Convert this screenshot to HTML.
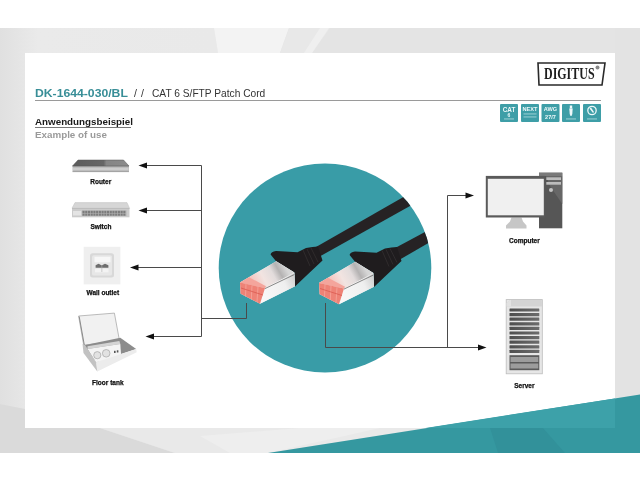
<!DOCTYPE html>
<html><head><meta charset="utf-8">
<style>
html,body{margin:0;padding:0;width:640px;height:480px;overflow:hidden;background:#fff;}
svg{position:absolute;left:0;top:0;display:block;will-change:transform;}
text{font-family:"Liberation Sans",sans-serif;}
</style></head>
<body>
<svg width="640" height="480" viewBox="0 0 640 480">
  <defs>
    <clipPath id="circ"><ellipse cx="325" cy="268" rx="106.3" ry="104.5"/></clipPath>
    <linearGradient id="routerTop" x1="0" x2="1" y1="0" y2="0">
      <stop offset="0" stop-color="#5a5a5a"/><stop offset="0.55" stop-color="#666"/><stop offset="0.6" stop-color="#858585"/><stop offset="1" stop-color="#8c8c8c"/>
    </linearGradient>
    <linearGradient id="plugTop" gradientUnits="userSpaceOnUse" x1="252.5" y1="285.3" x2="285.3" y2="266.9">
      <stop offset="0" stop-color="#f3c0b9"/><stop offset="0.35" stop-color="#f2e4e1"/><stop offset="0.62" stop-color="#e2dcdc"/><stop offset="0.8" stop-color="#b4b2b2"/><stop offset="1" stop-color="#d6d6d6"/>
    </linearGradient>
    <linearGradient id="plugSide" gradientUnits="userSpaceOnUse" x1="262" y1="296" x2="295" y2="280">
      <stop offset="0" stop-color="#f8f8f8"/><stop offset="0.7" stop-color="#efefef"/><stop offset="1" stop-color="#d2d2d2"/>
    </linearGradient>
    <linearGradient id="leftG" x1="0" x2="214" y1="0" y2="0" gradientUnits="userSpaceOnUse">
      <stop offset="0" stop-color="#e0e0e0"/><stop offset="0.18" stop-color="#eaeaea"/><stop offset="1" stop-color="#e9e9e9"/>
    </linearGradient>
    <linearGradient id="srvStripe" x1="0" x2="1" y1="0" y2="0">
      <stop offset="0" stop-color="#4e4e4e"/><stop offset="1" stop-color="#6c6c6c"/>
    </linearGradient>
  </defs>
  <!-- background gray band -->
  <rect x="0" y="28" width="640" height="425" fill="#e4e4e4"/>
  <polygon points="0,28 214,28 218,53 25,53 25,409 0,404" fill="url(#leftG)"/>
  <polygon points="214,28 289,28 280,53 218,53" fill="#f3f3f3"/>
  <polygon points="289,28 330,28 312,53 280,53" fill="#e8e8e8"/>
  <polygon points="320,28 329,28 312,53 304,53" fill="#efefef"/>
  <polygon points="0,404 25,409 25,428 100,428 175,453 0,453" fill="#dadada"/>
  <polygon points="100,428 425.6,428 268,453 175,453" fill="#e9e9e9"/>
  <polygon points="200,436 300,428 380,428 268,453 230,453" fill="#eeeeee"/>
  <polygon points="615,28 640,28 640,394 615,398" fill="#e3e3e3"/>
  <!-- card -->
  <rect x="25" y="53" width="590" height="375" fill="#ffffff"/>
  <!-- teal bottom -->
  <polygon points="268,453 640,394.5 640,453" fill="#3598a0"/>
  <polygon points="425.6,428 615,398.4 615,428" fill="#3da1a9"/>
  <polygon points="490,428 543,428 565,453 498,453" fill="#32919a"/>

  <!-- header -->
  <text x="35" y="97" font-size="11" font-weight="bold" fill="#388e97" transform="translate(35 0) scale(1.11 1) translate(-35 0)">DK-1644-030/BL</text>
  <text x="134" y="97" font-size="10.5" fill="#333" letter-spacing="4">//</text>
  <text x="152" y="97" font-size="10.2" fill="#333">CAT 6 S/FTP Patch Cord</text>
  <rect x="35" y="100" width="566" height="1" fill="#9a9a9a"/>

  <text x="35" y="125" font-size="9.8" font-weight="bold" fill="#1a1a1a">Anwendungsbeispiel</text>
  <rect x="35" y="127" width="96" height="0.8" fill="#555"/>
  <text x="35" y="137.5" font-size="9.8" font-weight="bold" fill="#9a9a9a">Example of use</text>

  <!-- DIGITUS logo -->
  <polygon points="538,63 605,63 602,85 539,85" fill="#fff" stroke="#2a2a2a" stroke-width="1.6"/>
  <text x="544" y="79.5" font-size="17" font-weight="bold" fill="#1e1e1e" transform="translate(544 0) scale(0.705 1) translate(-544 0)" style="font-family:'Liberation Serif',serif">DIGITUS</text>
  <circle cx="597.5" cy="67.5" r="2" fill="#888"/>

  <!-- feature icons -->
  <g fill="#3e9ea7">
    <rect x="500" y="104" width="18" height="18" rx="1"/>
    <rect x="521" y="104" width="18" height="18" rx="1"/>
    <rect x="541.5" y="104" width="18" height="18" rx="1"/>
    <rect x="562" y="104" width="18" height="18" rx="1"/>
    <rect x="583" y="104" width="18" height="18" rx="1"/>
  </g>
  <g fill="#eef8f9" font-weight="bold">
    <text x="509" y="111.5" font-size="6.4" text-anchor="middle">CAT</text>
    <text x="509" y="116.5" font-size="5" text-anchor="middle">6</text>
    <rect x="504" y="118.5" width="10" height="0.9" fill="#a6d5d9"/>
    <text x="530" y="110.8" font-size="5.6" text-anchor="middle">NEXT</text>
    <rect x="523.5" y="113.5" width="13" height="0.9" fill="#a6d5d9"/>
    <rect x="523.5" y="116.5" width="13" height="0.9" fill="#a6d5d9"/>
    <text x="550.5" y="111" font-size="5.6" text-anchor="middle">AWG</text>
    <text x="550.5" y="118.5" font-size="5.6" text-anchor="middle">27/7</text>
    <rect x="569.8" y="105.5" width="2.4" height="3" fill="#eef8f9"/>
    <polygon points="569.3,108.5 572.7,108.5 572.3,114 571.5,116 570.5,116 569.7,114" fill="#eef8f9"/>
    <rect x="566" y="118.5" width="10" height="0.9" fill="#a6d5d9"/>
    <circle cx="592" cy="110.5" r="4.2" fill="none" stroke="#eef8f9" stroke-width="1.3"/>
    <polygon points="589.5,108.5 591,107.5 594,112 593,113" fill="#eef8f9"/>
    <rect x="587" y="118.5" width="10" height="0.9" fill="#a6d5d9"/>
  </g>

  <!-- teal circle -->
  <ellipse cx="325" cy="268" rx="106.3" ry="104.5" fill="#399ca7"/>

  <!-- cables & plugs (clipped) -->
  <g clip-path="url(#circ)">
    <polygon points="316,247 460,164.8 460,178 317,258" fill="#262224"/>
    <polygon points="390,250.8 480,202.3 480,213 396,261.8" fill="#262224"/>
  </g>
  <g id="plug1">
    <!-- boot -->
    <path d="M270.6,254.5 Q271,251.5 276,251 L285,251.6 L297.5,252.2 L306,248 L312.5,247 L318,246.5 L322.5,260.5 L306,276 L295,286.5 L294.4,272.5 L276.25,261.5 Z" fill="#1f1c1e"/>
    <g stroke="#3a3537" stroke-width="0.6" fill="none">
      <path d="M303,250 L310,266"/>
      <path d="M307,249 L314,264"/>
      <path d="M311,248 L318,262"/>
    </g>
    <!-- shell -->
    <polygon points="240,282.5 276.25,261.25 294.4,272.5 295,286.25 260,303.75 240.6,293.75" fill="#f2f2f2"/>
    <polygon points="240,282.5 276.25,261.25 294.4,272.5 265,288.1" fill="url(#plugTop)"/>
    <polygon points="265,288.1 294.4,273 295,286.25 260,303.75" fill="url(#plugSide)"/>
    <polygon points="240,282.5 249,277.2 266,286.2 265,288.1" fill="#f4a59c"/>
    <polygon points="240,282.5 265,288.1 260,303.75 240.6,293.75" fill="#ee8276"/>
    <g stroke="#f6aaa1" stroke-width="0.7">
      <line x1="246" y1="284" x2="245.5" y2="296.5"/>
      <line x1="252" y1="285.3" x2="251.3" y2="299.5"/>
      <line x1="258" y1="286.6" x2="257" y2="302"/>
    </g>
    <g stroke="#db5a50" stroke-width="0.8">
      <line x1="241" y1="288" x2="263" y2="295"/>
    </g>
    <line x1="265" y1="288.6" x2="294.4" y2="274.5" stroke="#5a5a5a" stroke-width="0.7"/>
  </g>
  <use href="#plug1" x="79" y="0.5"/>

  <!-- connector lines -->
  <g stroke="#4a4a4a" stroke-width="1" fill="none">
    <path d="M146,165.5 H201.5 V336.5 H153"/>
    <path d="M146,210.5 H201.5"/>
    <path d="M137,267.5 H201.5"/>
    <path d="M201.5,318.5 H246.5 V303"/>
    <path d="M447.5,347.5 V195.5 H466"/>
    <path d="M325.5,303 V347.5 H479"/>
  </g>
  <g fill="#111">
    <polygon points="138.5,165.5 147,162.5 147,168.5"/>
    <polygon points="138.5,210.5 147,207.5 147,213.5"/>
    <polygon points="130,267.5 138.5,264.5 138.5,270.5"/>
    <polygon points="145.5,336.5 154,333.5 154,339.5"/>
    <polygon points="474,195.5 465.5,192.5 465.5,198.5"/>
    <polygon points="486.5,347.5 478,344.5 478,350.5"/>
  </g>

  <!-- Router -->
  <polygon points="78,160 123.5,160 129,166 72.5,166" fill="url(#routerTop)" stroke="#555" stroke-width="0.5"/>
  <rect x="72.5" y="166" width="56.5" height="6" rx="1" fill="#bdbdbd"/>
  <rect x="72.5" y="166" width="56.5" height="0.8" fill="#8c8c8c"/>
  <rect x="73" y="168.2" width="55.5" height="1.6" fill="#d2d2d2"/>
  <rect x="72.5" y="171.3" width="56.5" height="0.8" fill="#9a9a9a"/>

  <!-- Switch -->
  <polygon points="75,202.6 127,202.6 129.5,208.2 72,208.2" fill="#d6d6d6" stroke="#c0c0c0" stroke-width="0.5"/>
  <rect x="72" y="208.2" width="57.5" height="9.1" fill="#cbcbcb"/>
  <rect x="72" y="208.2" width="57.5" height="0.7" fill="#b5b5b5"/>
  <rect x="73" y="211" width="8" height="4.5" fill="#e4e4e4"/>
  <rect x="82" y="210.4" width="44.5" height="5.6" fill="#b4b4b4"/>
  <g fill="#7c7c7c"><rect x="82.50" y="210.8" width="2.1" height="2.2"/><rect x="82.50" y="213.5" width="2.1" height="2.2"/><rect x="85.22" y="210.8" width="2.1" height="2.2"/><rect x="85.22" y="213.5" width="2.1" height="2.2"/><rect x="87.94" y="210.8" width="2.1" height="2.2"/><rect x="87.94" y="213.5" width="2.1" height="2.2"/><rect x="90.66" y="210.8" width="2.1" height="2.2"/><rect x="90.66" y="213.5" width="2.1" height="2.2"/><rect x="93.38" y="210.8" width="2.1" height="2.2"/><rect x="93.38" y="213.5" width="2.1" height="2.2"/><rect x="96.10" y="210.8" width="2.1" height="2.2"/><rect x="96.10" y="213.5" width="2.1" height="2.2"/><rect x="98.82" y="210.8" width="2.1" height="2.2"/><rect x="98.82" y="213.5" width="2.1" height="2.2"/><rect x="101.54" y="210.8" width="2.1" height="2.2"/><rect x="101.54" y="213.5" width="2.1" height="2.2"/><rect x="104.26" y="210.8" width="2.1" height="2.2"/><rect x="104.26" y="213.5" width="2.1" height="2.2"/><rect x="106.98" y="210.8" width="2.1" height="2.2"/><rect x="106.98" y="213.5" width="2.1" height="2.2"/><rect x="109.70" y="210.8" width="2.1" height="2.2"/><rect x="109.70" y="213.5" width="2.1" height="2.2"/><rect x="112.42" y="210.8" width="2.1" height="2.2"/><rect x="112.42" y="213.5" width="2.1" height="2.2"/><rect x="115.14" y="210.8" width="2.1" height="2.2"/><rect x="115.14" y="213.5" width="2.1" height="2.2"/><rect x="117.86" y="210.8" width="2.1" height="2.2"/><rect x="117.86" y="213.5" width="2.1" height="2.2"/><rect x="120.58" y="210.8" width="2.1" height="2.2"/><rect x="120.58" y="213.5" width="2.1" height="2.2"/><rect x="123.30" y="210.8" width="2.1" height="2.2"/><rect x="123.30" y="213.5" width="2.1" height="2.2"/></g>

  <!-- Wall outlet -->
  <rect x="83.7" y="246.8" width="36.7" height="37.6" fill="#efefef"/>
  <rect x="90" y="253.2" width="24" height="24.3" rx="2.5" fill="#d8d8d8"/>
  <rect x="92" y="255.2" width="20" height="20.3" rx="1.5" fill="#e7e7e7"/>
  <rect x="94.5" y="256.8" width="16" height="5.5" fill="#f7f7f7"/>
  <polygon points="95.6,267.8 95.6,265.2 98.5,263.8 101.5,265.2 102,265.2 105,263.8 108.4,265.2 108.4,267.8" fill="#6e6e6e"/>
  <rect x="95" y="268.8" width="13.5" height="3.5" fill="#f3f3f3"/>
  <rect x="101.6" y="265" width="0.6" height="7" fill="#b0b0b0"/>

  <!-- Floor tank -->
  <polygon points="78.6,316 114.4,313.1 119.5,340.8 83.7,345.2" fill="#f1f1f1" stroke="#a0a0a0" stroke-width="0.7"/>
  <line x1="79.2" y1="316.5" x2="84.3" y2="345" stroke="#8a8a8a" stroke-width="1"/>
  <polygon points="84,345.3 120.3,337.8 136.2,349 96,362.2" fill="#8c8c8c"/>
  <polygon points="87.5,346.2 119.4,341 120.3,343.9 87.5,349" fill="#d4d4d4"/>
  <polygon points="87.5,349 120.3,343.9 121.2,356.6 96,362.2" fill="#f4f4f4"/>
  <circle cx="97.3" cy="355.2" r="3.6" fill="#e2e2e2" stroke="#a5a5a5" stroke-width="0.7"/>
  <circle cx="106.2" cy="353.3" r="3.8" fill="#e2e2e2" stroke="#a5a5a5" stroke-width="0.7"/>
  <rect x="114" y="350.8" width="1.6" height="2.2" fill="#555"/>
  <rect x="116.8" y="350.3" width="1.6" height="2.2" fill="#555"/>
  <polygon points="96,362.2 136.2,349 136.7,352.3 97.3,371.6" fill="#ececec"/>
  <polygon points="82.5,344 85.2,345.3 96,362.2 97.3,371.6 83.5,353" fill="#c2c2c2"/>

  <!-- Computer -->
  <rect x="539" y="172.7" width="23.3" height="55.6" fill="#565656"/>
  <rect x="539" y="172.7" width="23.3" height="3.3" fill="#7a7a7a"/>
  <polygon points="546,176 562.3,176 562.3,204 550,186" fill="#676767"/>
  <rect x="546.3" y="177.3" width="14.7" height="2.7" fill="#bdbdbd"/>
  <rect x="546.3" y="182" width="14.7" height="2.7" fill="#bdbdbd"/>
  <circle cx="551" cy="190" r="2" fill="#c4c4c4"/>
  <polygon points="511.5,217.5 521.5,217.5 523,221.5 526.5,225.5 526.5,228.4 506,228.4 506,225.5 510,221.5" fill="#c6c6c6"/>
  <rect x="485.8" y="175.9" width="59.1" height="41.6" fill="#5a5a5a"/>
  <rect x="487.8" y="178.8" width="56" height="36.5" fill="#f0f0f0"/>

  <!-- Server -->
  <rect x="506.2" y="299.6" width="36.1" height="74.2" fill="#e6e6e6" stroke="#bcbcbc" stroke-width="0.8"/>
  <polygon points="506.6,303.5 510,300 541.9,300 541.9,306.5 506.6,306.5" fill="#d4d4d4"/>
  <polygon points="506.6,303.5 510,300 511,300 511,306.5 506.6,306.5" fill="#e2e2e2"/>
  <g fill="url(#srvStripe)"><rect x="509.5" y="308.4" width="29.8" height="3.2" rx="0.5"/><rect x="509.5" y="313.0" width="29.8" height="3.2" rx="0.5"/><rect x="509.5" y="317.6" width="29.8" height="3.2" rx="0.5"/><rect x="509.5" y="322.2" width="29.8" height="3.2" rx="0.5"/><rect x="509.5" y="326.8" width="29.8" height="3.2" rx="0.5"/><rect x="509.5" y="331.4" width="29.8" height="3.2" rx="0.5"/><rect x="509.5" y="336.0" width="29.8" height="3.2" rx="0.5"/><rect x="509.5" y="340.6" width="29.8" height="3.2" rx="0.5"/><rect x="509.5" y="345.2" width="29.8" height="3.2" rx="0.5"/><rect x="509.5" y="349.8" width="29.8" height="3.2" rx="0.5"/></g>
  <rect x="509.5" y="355.2" width="29.8" height="15" fill="#5a5a5a"/>
  <rect x="510.5" y="357" width="27.8" height="5" fill="#9c9c9c"/>
  <rect x="510.5" y="363.5" width="27.8" height="5" fill="#9c9c9c"/>

  <!-- device labels -->
  <g font-weight="bold" fill="#111" font-size="6.5" stroke="#111" stroke-width="0.25">
    <text x="100.7" y="184.1" text-anchor="middle">Router</text>
    <text x="100.9" y="228.6" text-anchor="middle">Switch</text>
    <text x="102.8" y="295.1" text-anchor="middle">Wall outlet</text>
    <text x="107.8" y="385" text-anchor="middle">Floor tank</text>
    <text x="524.4" y="243.1" text-anchor="middle">Computer</text>
    <text x="524.4" y="388" text-anchor="middle">Server</text>
  </g>
</svg>
</body></html>
